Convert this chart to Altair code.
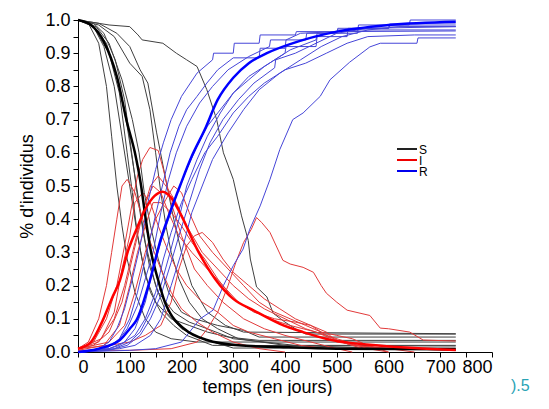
import altair as alt
import pandas as pd

# ---- stochastic runs: (day, fraction) waypoints ----
S1 = [(0,1.0),(60,0.985),(100,0.98),(116,0.955),(124,0.94),(164,0.93),(190,0.9),(210,0.88),(230,0.86),(249,0.79),(268,0.70),(281,0.60),(300,0.52),(316,0.41),(329,0.336),(333,0.28),(345,0.196),(365,0.166),(377,0.117),(400,0.09),(420,0.07),(440,0.054),(730,0.054)]
S2 = [(0,1.0),(20,0.99),(40,0.93),(55,0.8),(65,0.65),(75,0.5),(85,0.38),(95,0.28),(110,0.18),(130,0.1),(150,0.06),(180,0.04),(230,0.03),(730,0.03)]
S3 = [(0,1.0),(30,0.98),(50,0.92),(70,0.8),(85,0.65),(100,0.5),(112,0.38),(125,0.27),(140,0.18),(160,0.12),(185,0.08),(210,0.05),(260,0.02),(730,0.018)]
S4 = [(0,1.0),(25,0.99),(55,0.93),(80,0.8),(95,0.68),(108,0.55),(118,0.45),(130,0.33),(150,0.2),(170,0.12),(200,0.07),(240,0.04),(300,0.012),(730,0.012)]
S5 = [(0,1.0),(35,0.98),(60,0.93),(85,0.82),(105,0.7),(118,0.6),(128,0.48),(140,0.38),(155,0.28),(175,0.18),(200,0.12),(225,0.1),(270,0.08),(320,0.065),(350,0.045),(730,0.045)]
S6 = [(0,1.0),(40,0.985),(70,0.95),(100,0.87),(124,0.83),(139,0.73),(150,0.6),(160,0.48),(170,0.38),(180,0.3),(195,0.22),(215,0.15),(240,0.1),(270,0.07),(310,0.04),(400,0.02),(730,0.005)]
S7 = [(0,1.0),(40,0.99),(75,0.96),(100,0.92),(120,0.85),(135,0.81),(152,0.66),(172,0.5),(185,0.4),(200,0.3),(220,0.2),(250,0.12),(285,0.08),(320,0.06),(730,0.055)]
S8 = [(0,1.0),(30,0.98),(60,0.9),(80,0.78),(95,0.6),(105,0.48),(115,0.35),(130,0.23),(150,0.15),(180,0.1),(215,0.08),(250,0.06),(290,0.045),(350,0.035),(730,0.035)]
S9 = [(0,1.0),(30,0.99),(50,0.96),(72,0.88),(90,0.76),(102,0.62),(114,0.48),(126,0.36),(138,0.26),(155,0.18),(185,0.12),(215,0.09),(250,0.07),(300,0.04),(420,0.02),(730,0.02)]

I1 = [(0,0.005),(100,0.005),(180,0.01),(230,0.03),(250,0.07),(270,0.12),(290,0.2),(305,0.27),(320,0.33),(335,0.37),(345,0.405),(355,0.39),(371,0.36),(396,0.276),(410,0.265),(435,0.255),(455,0.24),(470,0.2),(480,0.177),(500,0.15),(520,0.126),(564,0.11),(584,0.072),(600,0.07),(641,0.06),(667,0.036),(730,0.033)]
I2 = [(0,0.01),(20,0.03),(40,0.1),(55,0.2),(65,0.3),(75,0.4),(85,0.5),(95,0.52),(110,0.48),(125,0.4),(140,0.33),(160,0.25),(180,0.18),(200,0.13),(230,0.09),(260,0.06),(300,0.03),(350,0.01),(400,0.0)]
I3 = [(0,0.01),(30,0.03),(55,0.1),(75,0.2),(90,0.32),(105,0.45),(115,0.53),(125,0.58),(139,0.616),(155,0.607),(165,0.55),(180,0.45),(200,0.35),(225,0.25),(250,0.2),(280,0.15),(320,0.1),(360,0.07),(400,0.05),(450,0.03),(500,0.01),(530,0.0)]
I4 = [(0,0.01),(40,0.03),(70,0.1),(90,0.2),(110,0.33),(125,0.42),(140,0.5),(155,0.53),(170,0.5),(190,0.45),(210,0.38),(240,0.3),(270,0.25),(300,0.2),(330,0.16),(360,0.13),(400,0.1),(440,0.07),(480,0.05),(520,0.03),(560,0.01),(600,0.0)]
I5 = [(0,0.01),(30,0.02),(60,0.06),(85,0.15),(100,0.25),(115,0.35),(130,0.45),(145,0.5),(160,0.48),(175,0.42),(195,0.35),(220,0.3),(250,0.25),(280,0.2),(310,0.15),(340,0.12),(380,0.1),(420,0.09),(450,0.08),(480,0.06),(500,0.03),(540,0.02),(600,0.01),(650,0.0)]
I6 = [(0,0.005),(50,0.02),(80,0.08),(100,0.2),(115,0.3),(130,0.38),(145,0.45),(160,0.45),(180,0.42),(200,0.38),(220,0.33),(245,0.28),(270,0.22),(300,0.16),(330,0.13),(370,0.1),(410,0.08),(460,0.06),(490,0.04),(530,0.02),(600,0.01)]
I7 = [(0,0.01),(45,0.04),(70,0.12),(85,0.25),(100,0.35),(110,0.45),(125,0.48),(140,0.45),(155,0.38),(170,0.32),(190,0.25),(210,0.2),(240,0.15),(270,0.12),(300,0.08),(330,0.06),(380,0.04),(430,0.02),(480,0.01)]
I8 = [(0,0.01),(60,0.03),(90,0.08),(110,0.18),(130,0.3),(150,0.4),(170,0.46),(185,0.5),(200,0.48),(215,0.42),(235,0.35),(260,0.3),(290,0.25),(320,0.2),(350,0.15),(380,0.12),(410,0.1),(440,0.08),(470,0.06),(500,0.05),(530,0.04),(560,0.02),(600,0.0)]
I9 = [(0,0.01),(60,0.02),(100,0.03),(130,0.05),(160,0.08),(180,0.15),(195,0.25),(210,0.32),(225,0.35),(240,0.36),(260,0.33),(280,0.28),(300,0.24),(330,0.2),(360,0.16),(390,0.13),(420,0.1),(450,0.08),(480,0.05),(510,0.03),(550,0.01)]

R1 = [(0,0.0),(100,0.005),(150,0.01),(200,0.03),(236,0.1),(261,0.126),(281,0.2),(300,0.26),(319,0.31),(332,0.37),(352,0.44),(371,0.52),(390,0.61),(415,0.70),(435,0.72),(468,0.77),(487,0.82),(525,0.873),(564,0.919),(584,0.93),(655,0.93),(657,0.946),(730,0.946)]
R2 = [(0,0.0),(40,0.01),(60,0.03),(75,0.07),(90,0.13),(105,0.22),(120,0.32),(135,0.45),(150,0.55),(165,0.63),(180,0.7),(200,0.77),(230,0.84),(260,0.88),(262,0.9),(300,0.9),(302,0.93),(350,0.93),(352,0.955),(420,0.955),(422,0.965),(500,0.965),(502,0.97),(730,0.97)]
R3 = [(0,0.0),(50,0.01),(75,0.03),(95,0.07),(115,0.14),(130,0.22),(145,0.3),(160,0.42),(175,0.52),(190,0.6),(210,0.68),(235,0.75),(260,0.8),(290,0.85),(330,0.89),(370,0.92),(372,0.94),(440,0.94),(442,0.96),(500,0.96),(502,0.975),(600,0.975),(602,0.982),(730,0.982)]
R4 = [(0,0.0),(60,0.01),(90,0.03),(110,0.07),(130,0.15),(145,0.25),(160,0.33),(175,0.4),(190,0.47),(210,0.55),(230,0.62),(250,0.68),(270,0.72),(300,0.78),(330,0.82),(360,0.86),(400,0.9),(402,0.92),(460,0.92),(462,0.95),(520,0.95),(522,0.975),(600,0.975),(602,0.988),(730,0.988)]
R5 = [(0,0.0),(50,0.005),(80,0.02),(110,0.05),(130,0.1),(150,0.18),(165,0.28),(180,0.36),(200,0.45),(220,0.52),(245,0.6),(270,0.65),(300,0.72),(330,0.77),(360,0.81),(400,0.85),(440,0.87),(480,0.9),(520,0.93),(560,0.95),(650,0.955),(730,0.955)]
R6 = [(0,0.0),(70,0.01),(100,0.03),(120,0.06),(140,0.12),(160,0.2),(178,0.3),(195,0.4),(210,0.5),(230,0.58),(250,0.65),(275,0.72),(300,0.78),(330,0.83),(370,0.87),(410,0.91),(460,0.94),(462,0.96),(540,0.96),(542,0.985),(640,0.985),(642,1.0),(730,1.0)]
R7 = [(0,0.0),(55,0.01),(80,0.04),(100,0.1),(115,0.18),(130,0.28),(145,0.38),(160,0.48),(178,0.6),(195,0.68),(210,0.73),(230,0.77),(249,0.81),(270,0.85),(300,0.886),(350,0.886),(352,0.915),(400,0.915),(402,0.94),(430,0.96),(500,0.965),(730,0.967)]
R8 = [(0,0.0),(60,0.005),(95,0.02),(120,0.05),(140,0.1),(160,0.17),(180,0.27),(195,0.35),(215,0.45),(235,0.55),(255,0.63),(280,0.7),(310,0.76),(340,0.81),(380,0.856),(382,0.88),(420,0.9),(460,0.93),(500,0.96),(560,0.975),(730,0.98)]
R9 = [(0,0.0),(80,0.01),(110,0.02),(140,0.05),(160,0.1),(180,0.2),(200,0.3),(220,0.42),(240,0.5),(260,0.58),(290,0.66),(320,0.73),(350,0.79),(390,0.84),(430,0.88),(470,0.92),(510,0.95),(560,0.97),(620,0.98),(730,0.98)]

# ---- mean curves ----
S_mean = [(0,1.0),(25,0.985),(50,0.935),(75,0.83),(95,0.69),(110,0.6),(122,0.5),(130,0.41),(140,0.31),(155,0.216),(168,0.15),(178,0.117),(205,0.07),(249,0.036),(310,0.02),(390,0.015),(500,0.01),(730,0.008)]
I_mean = [(0,0.01),(25,0.03),(48,0.096),(65,0.16),(81,0.216),(97,0.306),(113,0.37),(130,0.43),(148,0.47),(163,0.483),(180,0.465),(200,0.41),(230,0.31),(265,0.22),(300,0.16),(340,0.125),(390,0.085),(435,0.06),(493,0.035),(564,0.022),(650,0.012),(730,0.006)]
R_mean = [(0,0.0),(40,0.01),(81,0.036),(100,0.07),(113,0.096),(139,0.216),(160,0.34),(180,0.43),(197,0.5),(220,0.59),(245,0.67),(270,0.76),(300,0.826),(330,0.87),(365,0.9),(429,0.937),(500,0.965),(600,0.985),(730,0.995)]

x_ticks = [0, 50, 100, 150, 200, 250, 300, 350, 400, 450, 500, 550, 600, 650, 700, 750, 800]
y_ticks = [0.0, 0.05, 0.1, 0.15, 0.2, 0.25, 0.3, 0.35, 0.4, 0.45, 0.5,
           0.55, 0.6, 0.65, 0.7, 0.75, 0.8, 0.85, 0.9, 0.95, 1.0]
legend_labels = ["S", "I", "R"]
corner_note = ").5"

def frame(comp, runs):
    rows = []
    for k, run in enumerate(runs):
        for t, v in run:
            rows.append({"t": t, "v": v, "run": f"{comp}{k}", "comp": comp})
    return pd.DataFrame(rows)

dS = frame("S", [S1, S2, S3, S4, S5, S6, S7, S8, S9])
dI = frame("I", [I1, I2, I3, I4, I5, I6, I7, I8, I9])
dR = frame("R", [R1, R2, R3, R4, R5, R6, R7, R8, R9])

x_enc = alt.X("t:Q", scale=alt.Scale(domain=[0, 800], nice=False),
              axis=alt.Axis(values=x_ticks, title="temps (en jours)", titleX=189, titleY=40,
                            titleBaseline="alphabetic", labelPadding=1,
                            labelExpr="datum.value % 100 == 0 ? datum.label : ''"))
y_enc = alt.Y("v:Q", scale=alt.Scale(domain=[0, 1], nice=False),
              axis=alt.Axis(values=y_ticks, format=".1f", title="% d'individus", titlePadding=8,
                            labelPadding=3,
                            labelExpr="round(datum.value * 100) % 10 == 0 ? datum.label : ''"))

def thin(df, color):
    return alt.Chart(df).mark_line(interpolate="linear", strokeWidth=1, color=color).encode(
        x=x_enc, y=y_enc, detail="run:N")

def thick(run, color):
    return alt.Chart(frame("M", [run])).mark_line(interpolate="monotone", strokeWidth=2.5, color=color).encode(
        x=x_enc, y=y_enc)

legend_colors = ["#222222", "#ee0000", "#0000ee"]
legend_layers = []
for i, (lab, col) in enumerate(zip(legend_labels, legend_colors)):
    yy = 129 + i * 11
    legend_layers.append(
        alt.Chart(pd.DataFrame({"s": [lab]})).mark_rule(color=col, strokeWidth=2).encode(
            x=alt.value(319), x2=alt.value(339), y=alt.value(yy)))
    legend_layers.append(
        alt.Chart(pd.DataFrame({"s": [lab]})).mark_text(
            align="left", baseline="middle", fontSize=12, color="#000", font="Liberation Sans").encode(
            text="s:N", x=alt.value(341), y=alt.value(yy + 1)))

note = alt.Chart(pd.DataFrame({"s": [corner_note]})).mark_text(
    align="left", baseline="middle", fontSize=16, color="#2aa3b5", font="Liberation Sans").encode(
    text="s:N", x=alt.value(433), y=alt.value(366))

chart = alt.layer(
    thin(dS, "#404040"), thin(dI, "#e23a3a"), thin(dR, "#4646d8"),
    thick(S_mean, "#000000"), thick(I_mean, "#ff0000"), thick(R_mean, "#0000ff"),
    *legend_layers, note
).properties(
    width=414, height=332,
    autosize=alt.AutoSizeParams(type="none"),
    padding={"left": 70, "top": 12, "right": 46, "bottom": 44},
).configure_view(stroke=None).configure_axis(
    labelFont="Liberation Sans", titleFont="Liberation Sans",
    labelFontSize=18, titleFontSize=18, titleFontWeight="normal",
    labelColor="#000", titleColor="#000", domainColor="#000", tickColor="#000",
    grid=False, tickSize=5,
)

chart.save("out.html", embed_options={"renderer": "svg", "actions": False})
